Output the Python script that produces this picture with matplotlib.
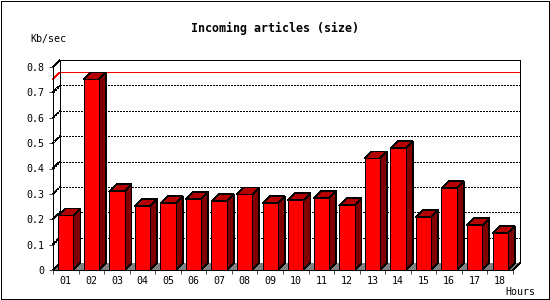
import matplotlib
matplotlib.use("Agg")
import matplotlib.pyplot as plt
from matplotlib.patches import Polygon, Rectangle

hours = ["01", "02", "03", "04", "05", "06", "07", "08", "09", "10",
         "11", "12", "13", "14", "15", "16", "17", "18"]
kb_sec = [0.215, 0.751, 0.310, 0.251, 0.263, 0.279, 0.271, 0.298, 0.263,
          0.275, 0.283, 0.255, 0.440, 0.480, 0.208, 0.322, 0.176, 0.145]
y_ticks = [0, 0.1, 0.2, 0.3, 0.4, 0.5, 0.6, 0.7, 0.8]
y_tick_labels = ["0", "0.1", "0.2", "0.3", "0.4", "0.5", "0.6", "0.7", "0.8"]
title = "Incoming articles (size)"
y_label = "Kb/sec"
x_label = "Hours"

W, H, DPI = 550, 300, 100
fig = plt.figure(figsize=(W / DPI, H / DPI), dpi=DPI)
fig.patch.set_facecolor("white")

# front plane of the plot, in pixels
L, R, B, T = 53, 513, 270, 67
ax = fig.add_axes([L / W, (H - B) / H, (R - L) / W, (B - T) / H])
n = len(hours)
ymax = 0.8
ax.set_xlim(0, n)
ax.set_ylim(0, ymax)
ax.set_facecolor("none")

px_x = n / (R - L)
px_y = ymax / (B - T)
dx = 7 * px_x
dy = 7 * px_y
lw = 0.5
mono = "DejaVu Sans Mono"
dots = (0, (2.88, 2.88))


def seg(xs, ys, **kw):
    base = dict(color="black", lw=lw, zorder=3, clip_on=False,
                antialiased=False, solid_capstyle="butt")
    base.update(kw)
    ax.plot(xs, ys, **base)


# floor
floor = Polygon([(0, 0), (n, 0), (n + dx, dy), (dx, dy)], closed=True,
                facecolor="#808080", edgecolor="none", zorder=1,
                clip_on=False, antialiased=False)
ax.add_patch(floor)

# dotted grid on back wall + diagonal from front axis
for v in y_ticks[1:-1]:
    seg([dx, n + dx], [v + dy, v + dy], linestyle=dots, zorder=2)
    seg([0, dx], [v, v + dy], linestyle=dots, zorder=2)

# max line
vmax = max(kb_sec)
seg([dx, n + dx], [vmax + dy, vmax + dy], color="red", zorder=3)
seg([0, dx], [vmax, vmax + dy], color="red", zorder=3)

# back frame
seg([dx, dx], [dy, ymax + dy])
seg([dx, n + dx], [ymax + dy, ymax + dy])
seg([n + dx, n + dx], [ymax + dy, dy])
seg([n + dx, n], [dy, 0])
seg([0, dx], [ymax, ymax + dy])
seg([0, dx], [0, dy])

# bars
for i, v in enumerate(kb_sec):
    x0 = i + 0.2
    x1 = i + 0.8
    front = Polygon([(x0, 0), (x1, 0), (x1, v), (x0, v)], closed=True,
                    facecolor="#FF0000", edgecolor="black", lw=lw, zorder=5,
                    clip_on=False, antialiased=False)
    top = Polygon([(x0, v), (x1, v), (x1 + dx, v + dy), (x0 + dx, v + dy)],
                  closed=True, facecolor="#B40000", edgecolor="black", lw=lw,
                  zorder=5, clip_on=False, antialiased=False)
    side = Polygon([(x1, 0), (x1 + dx, dy), (x1 + dx, v + dy), (x1, v)],
                   closed=True, facecolor="#800000", edgecolor="black", lw=lw,
                   zorder=5, clip_on=False, antialiased=False)
    ax.add_patch(side)
    ax.add_patch(top)
    ax.add_patch(front)

# spines / ticks
for s in ["top", "right"]:
    ax.spines[s].set_visible(False)
for s in ["left", "bottom"]:
    ax.spines[s].set_linewidth(lw)
    ax.spines[s].set_zorder(6)
    ax.spines[s].set_antialiased(False)
ax.set_yticks(y_ticks)
ax.set_yticklabels(y_tick_labels, fontfamily=mono, fontsize=7.2)
ax.set_xticks(range(n + 1))
ax.set_xticklabels([])
ax.set_xticks([i + 0.5 for i in range(n)], minor=True)
ax.set_xticklabels(hours, minor=True, fontfamily=mono, fontsize=7.2)
ax.tick_params(axis="y", direction="out", length=2.9, width=lw, pad=3.4)
ax.tick_params(axis="x", which="major", direction="out", length=2.9, width=lw)
ax.tick_params(axis="x", which="minor", length=0, pad=4.2)

# texts
fig.text(275 / W, 1 - 28 / H, title, ha="center", va="center",
         fontfamily=mono, fontweight="bold", fontsize=8.4)
fig.text(30 / W, 1 - 39 / H, y_label, ha="left", va="center",
         fontfamily=mono, fontsize=7.2)
fig.text(535 / W, 1 - 292 / H, x_label, ha="right", va="center",
         fontfamily=mono, fontsize=7.2)

# outer border
fig.patches.append(Rectangle((0.5 / W, 1.0 / H), (W - 2.0) / W, (H - 2.0) / H,
                             transform=fig.transFigure, fill=False,
                             edgecolor="black", lw=0.72, antialiased=False))

fig.savefig("out.png", dpi=DPI, facecolor="white")
